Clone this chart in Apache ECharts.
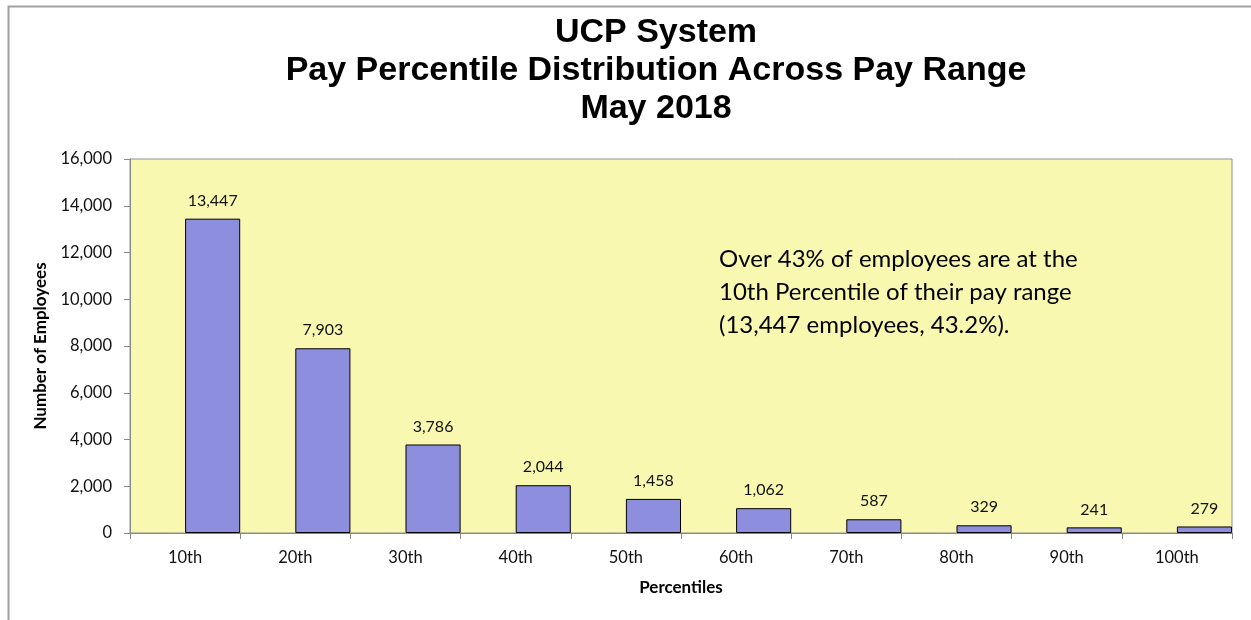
<!DOCTYPE html>
<html>
<head>
<meta charset="utf-8">
<script src="https://cdn.jsdelivr.net/npm/echarts@6/dist/echarts.min.js"></script>
<style>
html,body{margin:0;padding:0;background:#fff;}
#chart{width:1251px;height:620px;}
</style>
</head>
<body>
<div id="chart"></div>
<script>
const categories = ['10th','20th','30th','40th','50th','60th','70th','80th','90th','100th'];
const employees = [13447, 7903, 3786, 2044, 1458, 1062, 587, 329, 241, 279];
const placeholder = [null, null, null, null, null, null, null, null, null, null];
const titleLines = ['UCP System', 'Pay Percentile Distribution Across Pay Range', 'May 2018'];
const noteLines = ['Over 43% of employees are at the', '10th Percentile of their pay range', '(13,447 employees, 43.2%).'];
const yMin = 0, yMax = 16000, yStep = 2000;

const fmt = v => Number(v).toLocaleString('en-US');
const chart = echarts.init(document.getElementById('chart'));
chart.setOption({
  backgroundColor: '#ffffff',
  animation: false,
  title: {
    text: titleLines.join('\n'),
    left: 651,
    textAlign: 'center',
    top: 9,
    textStyle: { fontFamily: 'Liberation Sans', fontWeight: 'bold', fontSize: 34, lineHeight: 38, color: '#000' }
  },
  grid: {
    left: 130, top: 159, right: 19, bottom: 87,
    show: true, backgroundColor: '#F8F8B0', borderColor: '#909090', borderWidth: 1
  },
  xAxis: {
    type: 'category',
    data: categories,
    name: 'Percentiles',
    nameLocation: 'middle',
    nameGap: 46,
    nameTextStyle: { fontFamily: 'Lato', fontWeight: 'bold', fontSize: 17, color: '#000' },
    axisLine: { lineStyle: { color: '#888888', width: 1 } },
    axisTick: { show: true, length: 6, lineStyle: { color: '#888888' } },
    axisLabel: { fontFamily: 'Lato', fontSize: 16.5, color: '#111', margin: 16 },
    splitLine: { show: false }
  },
  yAxis: {
    type: 'value',
    min: yMin, max: yMax, interval: yStep,
    name: 'Number of Employees',
    nameLocation: 'middle',
    nameGap: 75,
    nameRotate: 90,
    nameTextStyle: { fontFamily: 'Lato', fontWeight: 'bold', fontSize: 17, color: '#000' },
    axisLine: { show: true, lineStyle: { color: '#888888', width: 1 } },
    axisTick: { show: true, length: 6, lineStyle: { color: '#888888' } },
    axisLabel: { fontFamily: 'Lato', fontSize: 16.5, color: '#111', margin: 18, formatter: v => fmt(v) },
    splitLine: { show: false }
  },
  series: [
    {
      type: 'bar', data: placeholder, barGap: '0%', barCategoryGap: '0%',
      itemStyle: { color: 'rgba(0,0,0,0)' }, silent: true
    },
    {
      type: 'bar', data: employees, barGap: '0%', barCategoryGap: '0%',
      itemStyle: { color: '#8E8EDE', borderColor: '#000', borderWidth: 1 },
      label: { show: true, position: 'top', distance: 10, fontFamily: 'Lato', fontSize: 16, color: '#111', formatter: p => fmt(p.value) }
    }
  ],
  graphic: [
    {
      type: 'rect', left: 6, top: 4, silent: true,
      shape: { width: 1400, height: 800 },
      style: { fill: 'none', stroke: '#a0a0a0', lineWidth: 2 }
    },
    {
      type: 'text', left: 719, top: 243, silent: true,
      style: { text: noteLines.join('\n'), font: '24px Lato', lineHeight: 33, fill: '#000' }
    }
  ]
});
</script>
</body>
</html>
